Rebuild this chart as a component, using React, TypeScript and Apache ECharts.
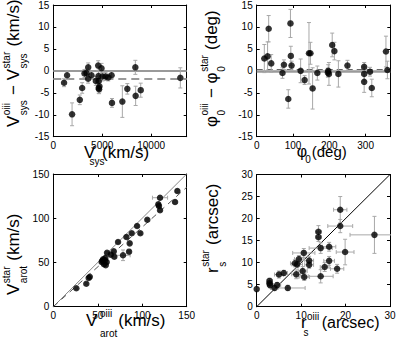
import React, { useEffect, useRef } from "react";
import * as echarts from "echarts";

const FONT = '"Liberation Sans", Arial, Helvetica, sans-serif';

// ---------- Panel 1: systemic velocity offsets ----------
const p1Vsys = [1100, 1410, 1920, 2710, 2950, 3190, 3390, 3570, 3560, 3900, 4350, 4590, 4620, 4650, 4720, 4640, 4680, 4930, 5030, 5340, 5620, 5960, 6000, 7060, 7570, 8390, 8420, 8940, 12990];
const p1Dv = [-2.7, -1.0, -9.9, -6.6, -3.9, -0.6, -0.5, 0.8, -1.8, -1.0, -2.3, 1.2, -1.2, -2.3, -3.5, -3.9, -4.2, 0.6, -1.3, -1.3, -1.5, -1.0, -7.3, -7.0, -4.1, 0.8, -5.7, -4.4, -1.6];
const p1DvErr = [0.9, 1.0, 2.6, 1.1, 1.2, 0.9, 0.9, 1.0, 1.0, 0.9, 1.0, 1.1, 1.0, 1.2, 1.3, 1.2, 1.0, 1.1, 1.0, 0.9, 0.8, 0.8, 1.0, 3.6, 1.2, 1.6, 2.2, 1.6, 2.3];
const p1MeanOffset = -1.9;
const p1XTicks = [0, 5000, 10000];
const p1XMax = 13640;

// ---------- Panel 2: position angle offsets ----------
const p2Phi = [21, 30, 33, 40, 71, 75, 93, 94, 96, 87, 121, 132, 144, 148, 154, 167, 197, 199, 196, 208, 214, 225, 250, 296, 296, 296, 312, 317, 356, 360];
const p2Dphi = [2.8, 3.3, 9.6, 1.7, -0.5, 1.4, 10.8, 3.4, 1.2, -6.4, 0.0, -2.1, 4.0, 4.0, -4.0, -0.5, 0.0, -0.7, -0.4, 5.9, 4.5, -0.7, 1.2, 0.9, -0.7, -2.5, -0.2, -3.9, 4.4, 0.2];
const p2DphiErr = [3.2, 3.3, 3.0, 2.0, 1.2, 1.1, 3.2, 2.2, 1.0, 2.1, 2.7, 1.0, 7.0, 2.5, 4.7, 1.6, 1.4, 2.6, 1.0, 2.7, 2.0, 3.0, 1.2, 1.0, 1.6, 2.4, 1.0, 2.0, 3.5, 2.0];
const p2MeanOffset = 0.4;
const p2XTicks = [0, 100, 200, 300];
const p2XMax = 368;

// ---------- Panel 3: rotation velocities ----------
const p3Voiii = [25.9, 37.1, 39.8, 41, 54.4, 55, 56, 57, 58, 58.5, 59, 60, 60.4, 64.6, 68, 68.6, 72.8, 78.4, 82.2, 85.2, 85.9, 88.2, 94.2, 97.9, 105.7, 118.1, 118.8, 120, 120, 136.9, 139.5];
const p3Vstar = [20.8, 26, 32.4, 33.9, 50.5, 52, 53.5, 48, 52.5, 55, 47, 50.5, 61, 58.8, 62.6, 56.5, 73.1, 58.1, 78.8, 62.2, 71.6, 83, 91.2, 83, 98.3, 115.7, 113.8, 123.2, 109, 118.3, 130.8];
const p3Xerr = [1.2, 1.2, 1.2, 1.2, 1.2, 1.2, 1.2, 1.2, 1.2, 1.2, 1.2, 1.2, 1.5, 1.5, 1.5, 1.5, 1.5, 8, 1.5, 1.5, 1.5, 1.5, 1.5, 1.5, 1.5, 2, 2, 8.5, 1.5, 2, 2];
const p3Yerr = [1.2, 1.2, 1.2, 1.2, 1.2, 1.2, 1.2, 1.2, 1.2, 1.2, 1.2, 1.2, 1.5, 1.5, 1.5, 1.5, 1.5, 6, 1.5, 1.5, 1.5, 1.5, 1.5, 1.5, 1.5, 2, 2, 2, 1.5, 2, 2];
const p3Slope = 0.9;
const p3Ticks = [0, 50, 100, 150];
const p3Max = 150;

// ---------- Panel 4: scale radii ----------
const p4Roiii = [0, 2.9, 2.9, 3.0, 4.0, 4.6, 5.0, 6.1, 7.0, 8.6, 8.9, 9.1, 9.5, 10.35, 10.6, 10.7, 11.8, 11.8, 13.9, 13.9, 14.4, 14.4, 15.3, 16.3, 16.3, 18.1, 18.8, 18.8, 19.9, 26.5];
const p4Rstar = [4.0, 5.85, 5.3, 4.9, 4.25, 4.9, 7.3, 7.65, 4.25, 9.85, 7.35, 9.6, 10.8, 8.1, 12.2, 6.75, 10.45, 9.5, 17.0, 15.8, 13.3, 6.9, 9.0, 13.6, 10.4, 8.6, 22.0, 18.3, 12.4, 16.3];
const p4Xerr = [0, 0.6, 0.6, 0.6, 0.8, 0.8, 1.0, 0.8, 3.9, 1.0, 1.0, 1.2, 1.0, 1.0, 2.5, 1.2, 1.0, 1.0, 0.6, 0.6, 2.6, 2.8, 1.0, 1.5, 1.2, 1.5, 1.5, 2.8, 2.0, 5.5];
const p4Yerr = [0.3, 0.6, 0.6, 0.6, 0.6, 0.6, 0.8, 0.6, 0.6, 0.8, 1.0, 0.8, 0.8, 1.0, 1.0, 0.8, 1.0, 0.8, 1.4, 1.0, 1.2, 1.5, 1.0, 1.0, 1.0, 1.0, 3.0, 1.5, 2.9, 4.2];
const p4XTicks = [0, 10, 20, 30];
const p4YTicks = [0, 5, 10, 15, 20, 25, 30];
const p4Max = 30;

const dVTicks = [-15, -10, -5, 0, 5, 10, 15];

// ---------- helpers ----------
let measureCtx: CanvasRenderingContext2D | null = null;
function measure(t: string, size: number): number {
  if (!measureCtx) measureCtx = document.createElement("canvas").getContext("2d");
  if (!measureCtx) return t.length * size * 0.55;
  measureCtx.font = `${size}px "Liberation Sans"`;
  return measureCtx.measureText(t).width;
}

type Part = { t: string; u: number; b: number; s: number };
type Seg = { m: string; sup?: string; sub?: string };

function textEl(p: Part) {
  return {
    type: "text",
    x: p.u,
    y: p.b - 0.347 * p.s,
    silent: true,
    style: {
      text: p.t,
      fontSize: p.s,
      fontFamily: FONT,
      fill: "#000",
      align: "left",
      verticalAlign: "middle",
    },
  };
}
function placeTitle(parts: Part[], x0: number, y0: number, rotated: boolean) {
  return { type: "group", x: x0, y: y0, rotation: rotated ? Math.PI / 2 : 0, children: parts.map(textEl) };
}
function autoParts(segs: Seg[]): Part[] {
  const MS = 17;
  const SS = 10;
  const parts: Part[] = [];
  let u = 0;
  for (const s of segs) {
    parts.push({ t: s.m, u, b: 0, s: MS });
    const w = measure(s.m, MS);
    let ws = 0;
    const both = !!(s.sup && s.sub);
    if (s.sup) {
      parts.push({ t: s.sup, u: u + w + 0.5, b: -9, s: SS });
      ws = Math.max(ws, measure(s.sup, SS) + 1);
    }
    if (s.sub) {
      parts.push({ t: s.sub, u: u + w + 0.5, b: both ? 8 : 6, s: SS });
      ws = Math.max(ws, measure(s.sub, SS) + 1);
    }
    u += w + ws;
  }
  return parts;
}

function errRender(params: any, api: any) {
  const x = api.value(0);
  const y = api.value(1);
  const ex = api.value(2);
  const ey = api.value(3);
  const c = api.coord([x, y]);
  const style = { stroke: "#a8a8a8", lineWidth: 1, fill: "none" };
  const cap = 2;
  const children: any[] = [];
  if (ey > 0) {
    const t = api.coord([x, y + ey]);
    const b = api.coord([x, y - ey]);
    children.push({ type: "line", shape: { x1: c[0], y1: t[1], x2: c[0], y2: b[1] }, style });
    children.push({ type: "line", shape: { x1: c[0] - cap, y1: t[1], x2: c[0] + cap, y2: t[1] }, style });
    children.push({ type: "line", shape: { x1: c[0] - cap, y1: b[1], x2: c[0] + cap, y2: b[1] }, style });
  }
  if (ex > 0) {
    const l = api.coord([x - ex, y]);
    const r = api.coord([x + ex, y]);
    children.push({ type: "line", shape: { x1: l[0], y1: c[1], x2: r[0], y2: c[1] }, style });
    children.push({ type: "line", shape: { x1: l[0], y1: c[1] - cap, x2: l[0], y2: c[1] + cap }, style });
    children.push({ type: "line", shape: { x1: r[0], y1: c[1] - cap, x2: r[0], y2: c[1] + cap }, style });
  }
  return { type: "group", children };
}

function labelFmt(ticks: number[]) {
  return (v: number) => (ticks.some((t) => Math.abs(t - v) < 1e-6) ? String(v) : "");
}

function mainAxis(gridIndex: number, min: number, max: number, interval: number, ticks: number[], pos: string) {
  return {
    type: "value",
    gridIndex,
    min,
    max,
    interval,
    position: pos,
    axisLine: { show: true, onZero: false, lineStyle: { color: "#000", width: 1 } },
    axisTick: { show: true, inside: true, length: 3, lineStyle: { color: "#000", width: 1 } },
    axisLabel: {
      show: true,
      fontSize: 10,
      fontFamily: FONT,
      color: "#000",
      margin: 4,
      formatter: labelFmt(ticks),
    },
    splitLine: { show: false },
  };
}
function mirrorAxis(gridIndex: number, min: number, max: number, interval: number, pos: string) {
  return {
    type: "value",
    gridIndex,
    min,
    max,
    interval,
    position: pos,
    axisLine: { show: true, onZero: false, lineStyle: { color: "#000", width: 1 } },
    axisTick: { show: true, inside: true, length: 3, lineStyle: { color: "#000", width: 1 } },
    axisLabel: { show: false },
    splitLine: { show: false },
  };
}

export default function App() {
  const ref = useRef<HTMLDivElement>(null);
  useEffect(() => {
    if (!ref.current) return;
    const chart = echarts.init(ref.current, undefined, { renderer: "svg" });

    const grids = [
      { left: 53.3, top: 5, width: 133.4, height: 131.7 },
      { left: 256.7, top: 5, width: 133.6, height: 131.7 },
      { left: 53.3, top: 174, width: 133.4, height: 132.7 },
      { left: 256.7, top: 174.5, width: 133.3, height: 132.2 },
    ].map((g) => ({ ...g, containLabel: false, outerBoundsMode: "none", show: false }));

    const xAxis = [
      mainAxis(0, 0, p1XMax, 5000, p1XTicks, "bottom"),
      mainAxis(1, 0, p2XMax, 100, p2XTicks, "bottom"),
      mainAxis(2, 0, p3Max, 50, p3Ticks, "bottom"),
      mainAxis(3, 0, p4Max, 10, p4XTicks, "bottom"),
      mirrorAxis(0, 0, p1XMax, 5000, "top"),
      mirrorAxis(1, 0, p2XMax, 100, "top"),
      mirrorAxis(2, 0, p3Max, 50, "top"),
      mirrorAxis(3, 0, p4Max, 10, "top"),
    ];
    const yAxis = [
      mainAxis(0, -15, 15, 5, dVTicks, "left"),
      mainAxis(1, -15, 15, 5, dVTicks, "left"),
      mainAxis(2, 0, p3Max, 50, p3Ticks, "left"),
      mainAxis(3, 0, p4Max, 5, p4YTicks, "left"),
      mirrorAxis(0, -15, 15, 5, "right"),
      mirrorAxis(1, -15, 15, 5, "right"),
      mirrorAxis(2, 0, p3Max, 50, "right"),
      mirrorAxis(3, 0, p4Max, 5, "right"),
    ];

    const scatterBase = {
      type: "scatter",
      symbol: "circle",
      symbolSize: 6.5,
      itemStyle: { color: "#000" },
      z: 3,
      silent: true,
    };
    const errBase = { type: "custom", renderItem: errRender, z: 1, silent: true, clip: true, encode: { x: 0, y: 1 } };
    const mlBase = { symbol: "none", silent: true, z: 1, label: { show: false }, animation: false };

    const series: any[] = [
      // Panel 1
      {
        ...errBase,
        xAxisIndex: 0,
        yAxisIndex: 0,
        data: p1Vsys.map((x, i) => [x, p1Dv[i], 0, p1DvErr[i]]),
        markLine: {
          ...mlBase,
          data: [
            { yAxis: 0, lineStyle: { color: "#9a9a9a", width: 2, type: "solid" } },
            { yAxis: p1MeanOffset, lineStyle: { color: "#9a9a9a", width: 2, type: [8, 5] } },
          ],
        },
      },
      { ...scatterBase, xAxisIndex: 0, yAxisIndex: 0, data: p1Vsys.map((x, i) => [x, p1Dv[i]]) },
      // Panel 2
      {
        ...errBase,
        xAxisIndex: 1,
        yAxisIndex: 1,
        data: p2Phi.map((x, i) => [x, p2Dphi[i], 0, p2DphiErr[i]]),
        markLine: {
          ...mlBase,
          data: [
            { yAxis: 0, lineStyle: { color: "#9a9a9a", width: 2.5, type: "solid" } },
            { yAxis: p2MeanOffset, lineStyle: { color: "#666", width: 1.2, type: [6, 4] } },
          ],
        },
      },
      { ...scatterBase, xAxisIndex: 1, yAxisIndex: 1, data: p2Phi.map((x, i) => [x, p2Dphi[i]]) },
      // Panel 3
      {
        ...errBase,
        xAxisIndex: 2,
        yAxisIndex: 2,
        data: p3Voiii.map((x, i) => [x, p3Vstar[i], p3Xerr[i], p3Yerr[i]]),
        markLine: {
          ...mlBase,
          data: [
            [
              { coord: [0, 0], lineStyle: { color: "#888", width: 1, type: "solid" } },
              { coord: [p3Max, p3Max] },
            ],
            [
              { coord: [0, 0], lineStyle: { color: "#555", width: 1, type: [6, 5] } },
              { coord: [p3Max, p3Max * p3Slope] },
            ],
          ],
        },
      },
      { ...scatterBase, xAxisIndex: 2, yAxisIndex: 2, data: p3Voiii.map((x, i) => [x, p3Vstar[i]]) },
      // Panel 4
      {
        ...errBase,
        xAxisIndex: 3,
        yAxisIndex: 3,
        data: p4Roiii.map((x, i) => [x, p4Rstar[i], p4Xerr[i], p4Yerr[i]]),
        markLine: {
          ...mlBase,
          data: [
            [
              { coord: [0, 0], lineStyle: { color: "#000", width: 1, type: "solid" } },
              { coord: [p4Max, p4Max] },
            ],
          ],
        },
      },
      { ...scatterBase, xAxisIndex: 3, yAxisIndex: 3, data: p4Roiii.map((x, i) => [x, p4Rstar[i]]) },
    ];

    const graphic = [
      // Panel 1 titles
      placeTitle(
        [
          { t: "V", u: 0, b: 0, s: 17 },
          { t: "sys", u: 5.5, b: 6, s: 10 },
          { t: "(km/s)", u: 18, b: 0, s: 17 },
        ],
        84,
        158.5,
        false
      ),
      placeTitle(
        autoParts([{ m: "V", sup: "oiii", sub: "sys" }, { m: " − " }, { m: "V", sup: "star", sub: "sys" }, { m: " (km/s)" }]),
        19,
        127,
        true
      ),
      // Panel 2 titles
      placeTitle(
        [
          { t: "φ", u: 0, b: 0, s: 16 },
          { t: "0", u: 8.5, b: 5.5, s: 10 },
          { t: "(deg)", u: 15, b: 0, s: 15 },
        ],
        296.7,
        157,
        false
      ),
      placeTitle(
        autoParts([{ m: "φ", sup: "oiii", sub: "0" }, { m: " − " }, { m: "φ", sup: "star", sub: "0" }, { m: " (deg)" }]),
        217,
        127,
        true
      ),
      // Panel 3 titles
      placeTitle(
        [
          { t: "V", u: 0, b: 0, s: 17 },
          { t: "oiii", u: 14, b: -9.5, s: 10 },
          { t: "arot", u: 14, b: 10, s: 10 },
          { t: "(km/s)", u: 32.3, b: 0, s: 17 },
        ],
        86,
        326.5,
        false
      ),
      placeTitle(autoParts([{ m: "V", sup: "star", sub: "arot" }, { m: " (km/s)" }]), 19, 295, true),
      // Panel 4 titles
      placeTitle(
        [
          { t: "r", u: 0, b: 0, s: 17 },
          { t: "oiii", u: 6, b: -9, s: 10 },
          { t: "s", u: 2.5, b: 7.5, s: 10 },
          { t: "(arcsec)", u: 20.7, b: 0, s: 16 },
        ],
        301,
        328.5,
        false
      ),
      placeTitle(autoParts([{ m: "r", sup: "star", sub: "s" }, { m: " (arcsec)" }]), 218, 273, true),
    ];

    chart.setOption({
      animation: false,
      backgroundColor: "#fff",
      grid: grids,
      xAxis,
      yAxis,
      series,
      graphic,
    });
    return () => chart.dispose();
  }, []);
  return (
    <div
      ref={ref}
      style={{ position: "absolute", left: 0, top: 0, width: 407, height: 342, background: "#fff" }}
    />
  );
}
